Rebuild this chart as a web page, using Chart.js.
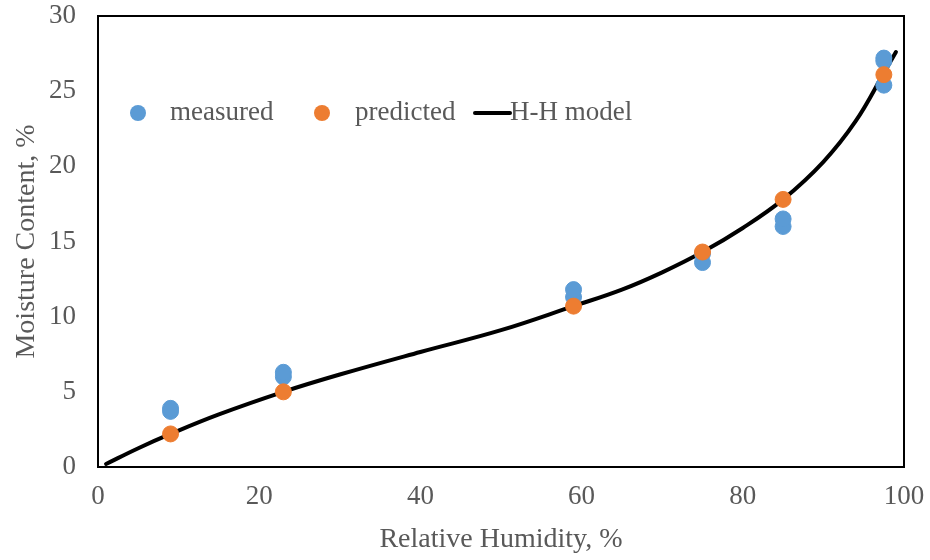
<!DOCTYPE html>
<html>
<head>
<meta charset="utf-8">
<script src="https://cdn.jsdelivr.net/npm/chart.js@4"></script>
<style>
body{margin:0;background:#fff;}
#wrap{width:930px;height:560px;}
</style>
</head>
<body>
<div id="wrap"><canvas id="chart" width="930" height="560"></canvas></div>
<script>

// measured points (several replicates at each humidity)
const measuredX = [9, 9, 23, 23, 59, 59, 75, 75, 85, 85, 97.5, 97.5, 97.5];
const measuredY = [3.7, 3.9, 6.0, 6.3, 11.3, 11.8, 13.6, 14.2, 16.0, 16.5, 25.4, 27.0, 27.2];

// predicted points
const predictedX = [9, 23, 59, 75, 85, 97.5];
const predictedY = [2.2, 5.0, 10.7, 14.3, 17.8, 26.1];

// H-H model curve
const modelX = [1, 5, 9, 15, 23, 30, 40, 50, 59, 65, 70, 75, 80, 85, 90, 94, 97.5, 99];
const modelY = [0.2, 1.25, 2.2, 3.5, 5.0, 6.15, 7.65, 9.1, 10.7, 11.8, 12.95, 14.3, 15.9, 17.8, 20.3, 23.0, 26.2, 27.6];

const xTicks = [0, 20, 40, 60, 80, 100];
const yTicks = [0, 5, 10, 15, 20, 25, 30];

const blue = "#5B9BD5";
const orange = "#ED7D31";
const grey = "#595959";
const serif = "'Liberation Serif', 'Times New Roman', serif";

function pts(xs, ys){
return xs.map((x, i) => ({x:x, y:ys[i]}));
}

// box round the plot area
const frame = {
id:"frame",
afterDraw(chart){
const a = chart.chartArea;
const ctx = chart.ctx;
ctx.save();
ctx.strokeStyle = "#000";
ctx.lineWidth = 2;
ctx.strokeRect(a.left, a.top, a.right - a.left, a.bottom - a.top);
ctx.restore();
}
};

// legend sits inside the plot, like in the sheet
const legendBox = {
id:"legendBox",
afterDraw(chart){
const a = chart.chartArea;
const ctx = chart.ctx;
const y = a.top + 97;
ctx.save();
ctx.font = "27px " + serif;
ctx.fillStyle = grey;
ctx.textBaseline = "middle";

ctx.fillStyle = blue;
ctx.beginPath();
ctx.arc(a.left + 40, y, 8, 0, Math.PI * 2);
ctx.fill();
ctx.fillStyle = grey;
ctx.fillText("measured", a.left + 72, y);

ctx.fillStyle = orange;
ctx.beginPath();
ctx.arc(a.left + 224, y, 8, 0, Math.PI * 2);
ctx.fill();
ctx.fillStyle = grey;
ctx.fillText("predicted", a.left + 257, y);

ctx.strokeStyle = "#000";
ctx.lineWidth = 4;
ctx.lineCap = "round";
ctx.beginPath();
ctx.moveTo(a.left + 377, y);
ctx.lineTo(a.left + 412, y);
ctx.stroke();
ctx.fillText("H-H model", a.left + 412, y);
ctx.restore();
}
};

new Chart(document.getElementById("chart"), {
type:"scatter",
data:{
datasets:[
{
label:"predicted",
data:pts(predictedX, predictedY),
backgroundColor:orange,
borderColor:orange,
pointRadius:8,
pointHoverRadius:8,
order:1
},
{
label:"measured",
data:pts(measuredX, measuredY),
backgroundColor:blue,
borderColor:blue,
pointRadius:8,
pointHoverRadius:8,
order:2
},
{
label:"H-H model",
data:pts(modelX, modelY),
showLine:true,
borderColor:"#000",
borderWidth:4,
borderCapStyle:"round",
pointRadius:0,
tension:0.4,
fill:false,
order:3
}
]
},
options:{
responsive:false,
animation:false,
layout:{padding:{top:16, right:26, left:6, bottom:0}},
plugins:{
legend:{display:false},
tooltip:{enabled:false}
},
scales:{
x:{
type:"linear",
min:0,
max:100,
afterBuildTicks(s){ s.ticks = xTicks.map(v => ({value:v})); },
afterFit(s){ s.height = 93; s.paddingLeft = 0; s.paddingRight = 0; },
grid:{display:false, drawTicks:false},
border:{display:false},
ticks:{color:grey, font:{family:serif, size:27}, padding:14, maxRotation:0},
title:{display:true, text:"Relative Humidity, %", color:grey, font:{family:serif, size:28}, padding:{top:10}}
},
y:{
type:"linear",
min:0,
max:30,
afterBuildTicks(s){ s.ticks = yTicks.map(v => ({value:v})); },
afterFit(s){ s.width = 92; s.paddingTop = 0; s.paddingBottom = 0; },
grid:{display:false, drawTicks:false},
border:{display:false},
ticks:{color:grey, font:{family:serif, size:27}, padding:22},
title:{display:true, text:"Moisture Content, %", color:grey, font:{family:serif, size:28}, padding:{bottom:0}}
}
}
},
plugins:[frame, legendBox]
});

</script>
</body>
</html>
